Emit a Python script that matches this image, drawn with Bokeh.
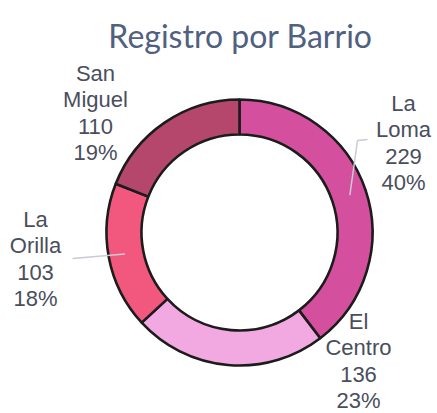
import math
from bokeh.plotting import figure
from bokeh.models import Range1d, ColumnDataSource
from bokeh.core.properties import value
from bokeh.embed import file_html
from bokeh.resources import INLINE

# ---- data ----
title_text = "Registro por Barrio"
categories = ["La Loma", "El Centro", "La Orilla", "San Miguel"]
values = [229, 136, 103, 110]
pct_labels = ["40%", "23%", "18%", "19%"]
colors = ["#D4509E", "#F2A8E0", "#F2587E", "#B5476C"]

# ---- layout (page pixel coords; data y = H - page_y) ----
W, H = 437, 413
def Y(py):
    return H - py

cx, cy = 239, Y(232)
r_in, r_out = 98, 133

p = figure(width=W, height=H, output_backend="svg", toolbar_location=None,
           x_range=Range1d(0, W), y_range=Range1d(0, H), min_border=0)
p.axis.visible = False
p.grid.visible = False
p.outline_line_color = None
p.background_fill_color = "white"

total = sum(values)
starts, ends, mids = [], [], []
acc = 0
for v in values:
    a0 = math.pi / 2 - 2 * math.pi * acc / total
    acc += v
    a1 = math.pi / 2 - 2 * math.pi * acc / total
    starts.append(a0)
    ends.append(a1)
    mids.append((a0 + a1) / 2)

src = ColumnDataSource(dict(x=[cx] * 4, y=[cy] * 4, s=starts, e=ends, c=colors))
p.annular_wedge(x="x", y="y", inner_radius=r_in, outer_radius=r_out,
                start_angle="s", end_angle="e", direction="clock",
                fill_color="c", line_color="#1c1c1c", line_width=2.6, source=src)

# title
p.text(x=[240], y=[Y(35)], text=[title_text], text_font=value("Lato"),
       text_font_size="32px", text_color="#506080", text_align="center",
       text_baseline="alphabetic")

# labels: center x, first line center y (page coords)
label_pos = {"La Loma": (403, 103), "El Centro": (358, 321),
             "La Orilla": (35, 219), "San Miguel": (95, 73)}
spacing = 26.3
tx, ty, tt = [], [], []
for cat, v, pc in zip(categories, values, pct_labels):
    lines = cat.split(" ") + [str(v), pc]
    lx, ly = label_pos[cat]
    for i, ln in enumerate(lines):
        tx.append(lx)
        ty.append(Y(ly + i * spacing))
        tt.append(ln)
p.text(x=tx, y=ty, text=tt, text_font=value("Liberation Sans"),
       text_font_size="22px", text_color="#4A4E5C", text_align="center",
       text_baseline="middle")

# leader lines
r_mid = (r_in + r_out) / 2 + 1
loma_i = categories.index("La Loma")
orilla_i = categories.index("La Orilla")
lx0 = cx + r_mid * math.cos(mids[loma_i])
ly0 = cy + r_mid * math.sin(mids[loma_i])
ox0 = cx + r_mid * math.cos(mids[orilla_i])
oy0 = cy + r_mid * math.sin(mids[orilla_i])
p.multi_line(xs=[[lx0, 357, 367], [ox0, 72]],
             ys=[[ly0, Y(140), Y(139)], [oy0, Y(258)]],
             line_color="#C9CAD4", line_width=1.5)

open("out.html", "w").write(file_html(p, INLINE))
